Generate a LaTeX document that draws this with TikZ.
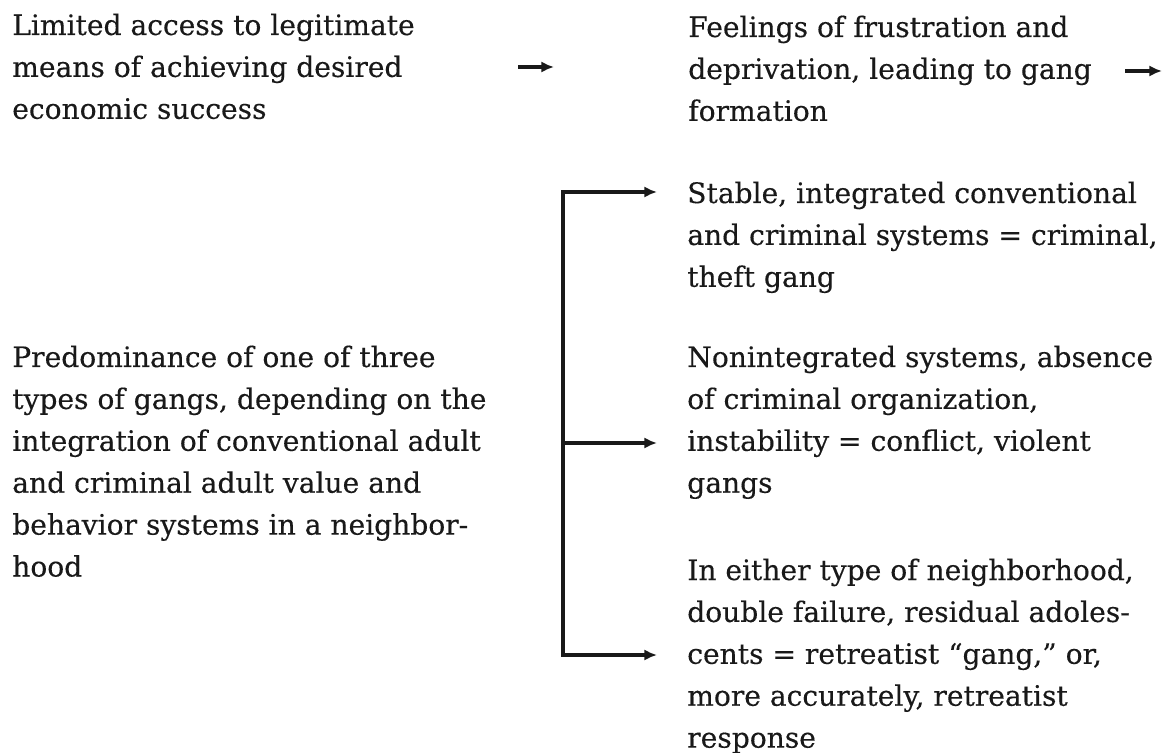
\documentclass[tikz,border=0pt]{standalone}
\usepackage{fontspec}
\setmainfont{DejaVu Serif}
\newfontfamily\diagfont{DejaVu Serif}[FakeBold=0.3]
\usetikzlibrary{arrows.meta,calc}
\newcommand\mtext[1]{\vtop{\baselineskip=29.8pt\lineskiplimit=-100pt\halign{##\hfil\cr#1\crcr}}}
\tikzset{
  txt/.style={anchor=base west, inner sep=0pt, font=\diagfont\fontsize{20}{29.8}\selectfont, text=black!90},
  arr/.style={line width=2.2pt, draw=black!90, -{Latex[length=9pt,width=8pt]}},
  ln/.style={line width=2.2pt, draw=black!90}
}
\begin{document}
\begin{tikzpicture}[x=0.025cm,y=-0.025cm]
\useasboundingbox (0,0) rectangle (1168,753);
\node[txt] (A) at (12,35) {\mtext{Limited access to legitimate\cr means of achieving desired\cr economic success}};
\node[txt] (B) at (688,37) {\mtext{Feelings of frustration and\cr deprivation, leading to gang\cr formation}};
\node[txt] (C1) at (687,203) {\mtext{Stable, integrated conventional\cr and criminal systems = criminal,\cr theft gang}};
\node[txt] (C2) at (687,367) {\mtext{Nonintegrated systems, absence\cr of criminal organization,\cr instability = conflict, violent\cr gangs}};
\node[txt] (C3) at (687,580) {\mtext{In either type of neighborhood,\cr double failure, residual adoles-\cr cents = retreatist “gang,” or,\cr more accurately, retreatist\cr response}};
\node[txt] (D) at (12,367) {\mtext{Predominance of one of three\cr types of gangs, depending on the\cr integration of conventional adult\cr and criminal adult value and\cr behavior systems in a neighbor-\cr hood}};
\coordinate (a1s) at (518,67);
\coordinate (a1e) at (554,67);
\coordinate (a2s) at (1125,71);
\coordinate (a2e) at (1162,71);
\coordinate (btop) at (563,192);
\coordinate (bmid) at (563,443);
\coordinate (bbot) at (563,655);
\coordinate (e1) at (657,192);
\coordinate (e2) at (657,443);
\coordinate (e3) at (657,655);
\draw[arr] (a1s) -- (a1e);
\draw[arr] (a2s) -- (a2e);
\draw[ln, line cap=rect] (btop) -- (bbot);
\draw[arr] (btop) -- (e1);
\draw[arr] (bmid) -- (e2);
\draw[arr] (bbot) -- (e3);
\end{tikzpicture}
\end{document}
